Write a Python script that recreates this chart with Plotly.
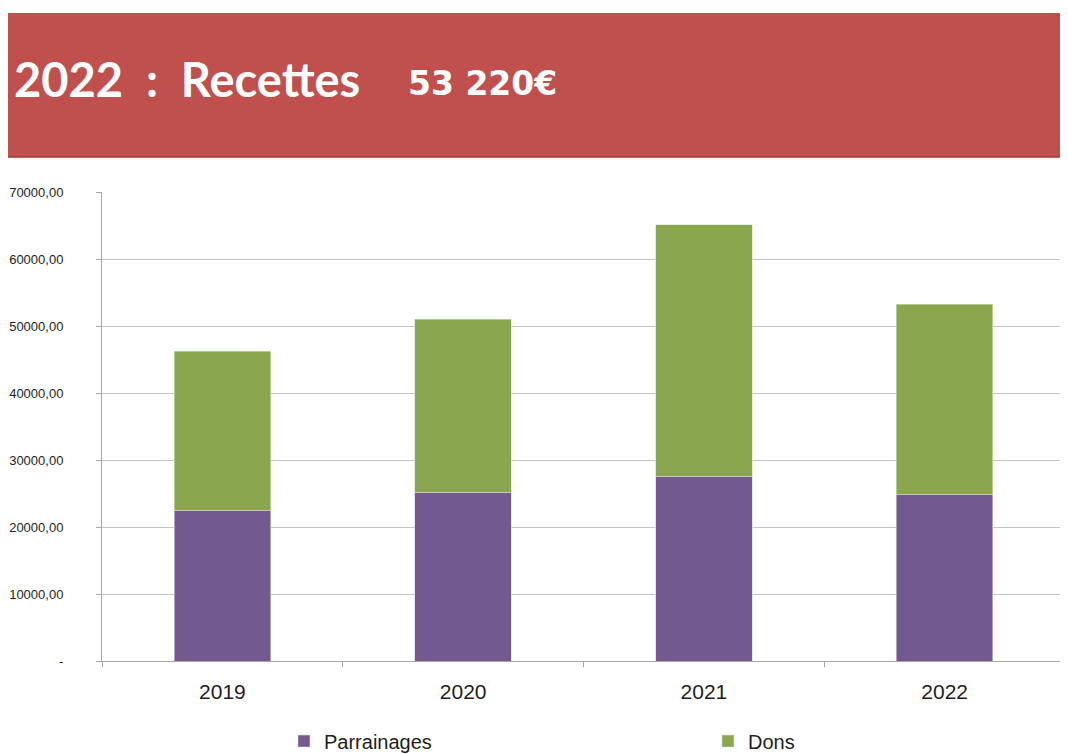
import plotly.graph_objects as go

years = ["2019", "2020", "2021", "2022"]
parrainages = [22500, 25200, 27600, 24900]
dons = [23700, 25800, 37500, 28320]
y_ticks = [0, 10000, 20000, 30000, 40000, 50000, 60000, 70000]
y_tick_labels = ["-", "10000,00", "20000,00", "30000,00", "40000,00",
                 "50000,00", "60000,00", "70000,00"]

PURPLE = "#725A8F"
GREEN = "#8AA64F"
FONT = "Liberation Sans, Arial, sans-serif"
TXT = "#1E1E1E"

W, H = 1068, 754
OFF = 8  # page offset of the figure (body margin)
L, R, T, B = 94, 11, 184, 101
pw, ph = W - L - R, H - T - B


def px(xpage):
    return (xpage - OFF - L) / pw


def py(ypage):
    return (H - B - (ypage - OFF)) / ph


fig = go.Figure()
fig.add_trace(go.Bar(x=years, y=parrainages, name="Parrainages", legend="legend",
                     marker=dict(color=PURPLE, line=dict(color="#D8D0E4", width=0.6))))
fig.add_trace(go.Bar(x=years, y=dons, name="Dons", legend="legend2",
                     marker=dict(color=GREEN, line=dict(color="#D6E3BC", width=0.6))))

leg_common = dict(orientation="h", xref="container", yref="container",
                  xanchor="left", yanchor="middle",
                  font=dict(size=20, family=FONT, color=TXT),
                  bgcolor="rgba(0,0,0,0)", borderwidth=0)

LEG_Y = 741
fig.update_layout(
    width=W, height=H,
    barmode="stack", bargap=0.6,
    plot_bgcolor="white", paper_bgcolor="white",
    margin=dict(l=L, r=R, t=T, b=B, pad=0),
    font=dict(family=FONT, color=TXT),
    showlegend=True,
    legend=dict(x=(284 - OFF) / W, y=(H - (LEG_Y - OFF)) / H, **leg_common),
    legend2=dict(x=(708 - OFF) / W, y=(H - (LEG_Y - OFF)) / H, **leg_common),
    xaxis=dict(type="category", tickson="boundaries", ticks="outside", ticklen=5,
               tickcolor="#A6A6A6", showline=True, linecolor="#A6A6A6", linewidth=1,
               showgrid=False, tickfont=dict(size=21, family=FONT, color=TXT),
               ticklabelstandoff=12, automargin=False, fixedrange=True),
    yaxis=dict(range=[0, 70000], tickvals=y_ticks, ticktext=y_tick_labels,
               ticks="outside", ticklen=5, tickcolor="#A6A6A6",
               showline=True, linecolor="#A6A6A6", linewidth=1,
               showgrid=True, gridcolor="#C4C4C4", gridwidth=1.2, zeroline=False,
               tickfont=dict(size=13, family=FONT, color=TXT),
               ticklabelstandoff=30, automargin=False, fixedrange=True),
    shapes=[
        dict(type="rect", xref="paper", yref="paper",
             x0=px(0), x1=px(1080), y0=py(157), y1=py(13),
             fillcolor="#C0504D", line=dict(width=0), layer="above"),
        dict(type="line", xref="paper", yref="paper",
             x0=px(0), x1=px(1080), y0=py(157), y1=py(157),
             line=dict(color="#9E3B39", width=1.5), layer="above"),
    ],
    annotations=[
        dict(text="<b>2022\u00a0\u00a0:\u00a0\u00a0Recettes</b>", xref="paper", yref="paper",
             x=px(12), y=py(79), xanchor="left", yanchor="middle", showarrow=False,
             font=dict(size=47, family="Lato, Open Sans, sans-serif", color="white")),
        dict(text="<b>53 220€</b>", xref="paper", yref="paper",
             x=px(406), y=py(83), xanchor="left", yanchor="middle", showarrow=False,
             font=dict(size=33, family="DejaVu Sans, sans-serif", color="white")),
    ],
)

fig.write_html("out.html")
